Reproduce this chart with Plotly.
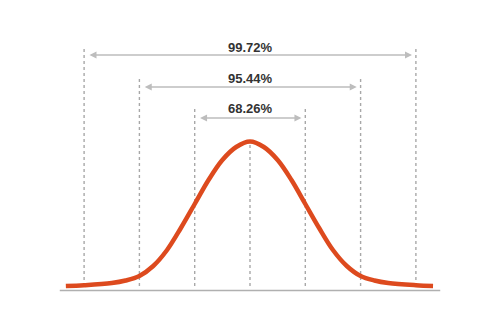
import plotly.graph_objects as go

# sigma positions of the dashed guide lines
sigmas = [-3, -2, -1, 0, 1, 2, 3]
# top of each guide line (height units above curve baseline)
guide_tops = [240, 209, 179, 144.5, 179, 209, 240]

# curve samples (x in sigma units, y = height above baseline)
curve_x = [-3.33, -3.0, -2.5, -2.25, -2.0, -1.75, -1.5, -1.25, -1.0, -0.75, -0.5, -0.25, 0.0,
           0.25, 0.5, 0.75, 1.0, 1.25, 1.5, 1.75, 2.0, 2.25, 2.5, 3.0, 3.31]
curve_y = [0.0, 0.8, 3.0, 5.5, 10.0, 20.0, 36.0, 58.0, 82.0, 106.0, 126.0, 139.0, 144.5,
           139.0, 126.0, 106.0, 82.0, 58.0, 36.0, 20.0, 10.0, 5.5, 3.0, 0.8, 0.0]

# interval labels
labels = ["99.72%", "95.44%", "68.26%"]
label_half_widths = [3, 2, 1]
arrow_levels = [231, 199, 168]
label_levels = [238.5, 207.5, 177.5]

fig = go.Figure()

# axis baseline
fig.add_trace(go.Scatter(x=[-3.44, 3.44], y=[-4.5, -4.5], mode="lines",
                         line=dict(color="#b0b0b0", width=1.5), hoverinfo="skip"))

# dashed guide lines
for s, t in zip(sigmas, guide_tops):
    fig.add_trace(go.Scatter(x=[s, s], y=[0, t], mode="lines",
                             line=dict(color="#a8a8a8", width=1.4, dash="3px,3px"),
                             hoverinfo="skip"))

# curve
fig.add_trace(go.Scatter(x=curve_x, y=curve_y, mode="lines",
                         line=dict(color="#DD4A1E", width=4.5, shape="spline", smoothing=1.0),
                         hoverinfo="skip"))

annotations = []
for lab, hw, ay, ly in zip(labels, label_half_widths, arrow_levels, label_levels):
    inset = 0.07
    annotations.append(dict(x=hw - inset, y=ay, ax=-hw + inset, ay=ay,
                            xref="x", yref="y", axref="x", ayref="y",
                            text="", showarrow=True, arrowhead=2, arrowside="end+start",
                            arrowsize=1.0, arrowwidth=1.4, arrowcolor="#bdbdbd"))
    annotations.append(dict(x=0, y=ly, xref="x", yref="y", text="<b>" + lab + "</b>",
                            showarrow=False,
                            font=dict(family="Liberation Sans, Arial", size=13, color="#333333")))

fig.update_layout(
    width=500, height=334,
    margin=dict(l=0, r=0, t=0, b=0),
    paper_bgcolor="white", plot_bgcolor="white",
    showlegend=False,
    xaxis=dict(range=[-250 / 55.3, 250 / 55.3], visible=False, fixedrange=True),
    yaxis=dict(range=[-48, 286], visible=False, fixedrange=True),
    annotations=annotations,
)

fig.write_html("out.html")
